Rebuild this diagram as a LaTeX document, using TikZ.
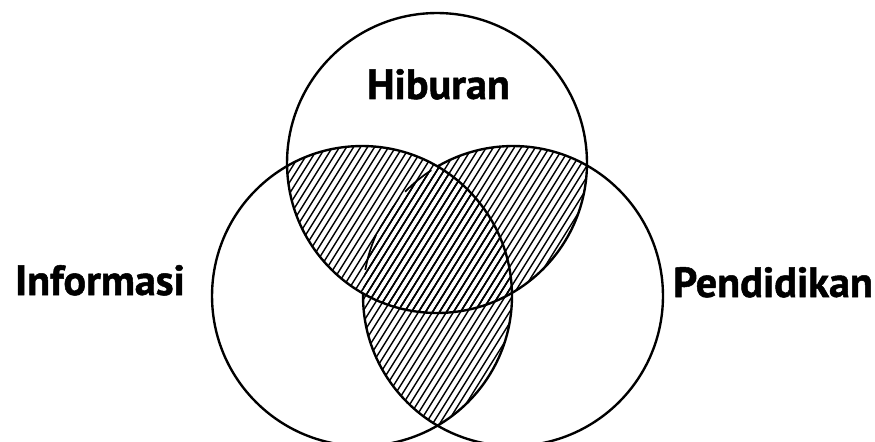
\documentclass[tikz,border=0pt]{standalone}
\usepackage{fontspec}
\setmainfont[BoldFeatures={FakeBold=1.2}]{PT Sans}
\begin{document}
\begin{tikzpicture}[x=0.02cm,y=-0.02cm,
  ring/.style={line width=1.35pt,black},
  faint/.style={line width=1pt,black},
  hatch/.style={line width=0.8pt,black},
  lbl/.style={font=\bfseries\fontsize{24}{28}\selectfont, anchor=base, inner sep=0pt}]
\useasboundingbox (0,0) rectangle (875,442);
\coordinate (T) at (437,163);
\coordinate (L) at (362,296);
\coordinate (R) at (513,296);
\def\rad{3cm}
\newcommand\myhatchlines{\foreach \x in {-420,-413,...,900} {\draw[hatch] (\x,500) -- (\x+375,-100);}}
% hatched pairwise overlaps
\begin{scope}
  \clip (T) circle[radius=\rad]; \clip (L) circle[radius=\rad];
  \myhatchlines
\end{scope}
\begin{scope}
  \clip (T) circle[radius=\rad]; \clip (R) circle[radius=\rad];
  \myhatchlines
\end{scope}
\begin{scope}
  \clip (L) circle[radius=\rad]; \clip (R) circle[radius=\rad];
  \myhatchlines
\end{scope}
% circles
\draw[ring] (T) circle[radius=\rad];
\draw[ring] (L) circle[radius=\rad];
\draw[ring] (R) ++(179:\rad) arc[start angle=179, end angle=480, radius=\rad];
\draw[faint] (R) ++(123:\rad) arc[start angle=123, end angle=136, radius=\rad];
\draw[faint] (R) ++(156:\rad) arc[start angle=156, end angle=170, radius=\rad];
% labels
\node[lbl] (hib) at (438.5,99) {Hiburan};
\node[lbl] (inf) at (100,295) {Informasi};
\node[lbl] (pen) at (773,297) {Pendidikan};
\end{tikzpicture}
\end{document}
